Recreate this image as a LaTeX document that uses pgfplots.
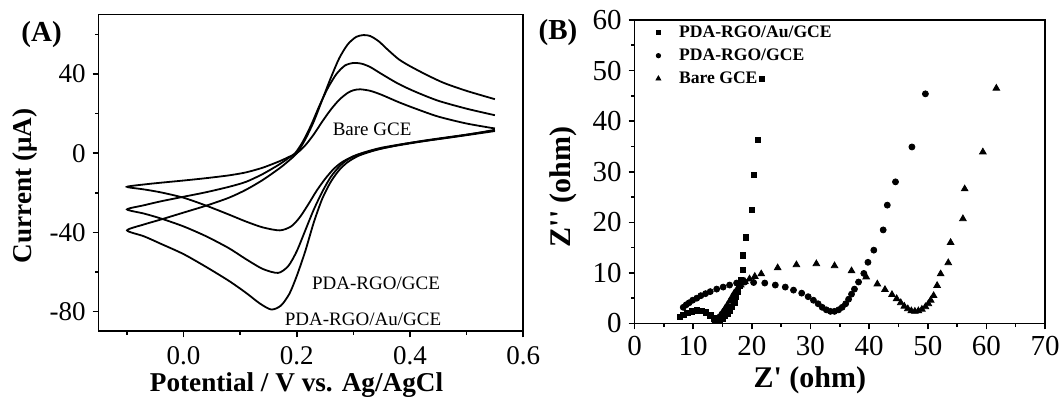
\documentclass[border=0pt]{standalone}
\usepackage{fontspec}
\setmainfont{Liberation Serif}
\usepackage{pgfplots}
\pgfplotsset{compat=1.18}
\begin{document}
\begin{tikzpicture}
\path[use as bounding box] (0,0) rectangle (529.5pt,200.5pt);
\pgfplotsset{
  panel/.style={
    scale only axis,
    anchor=south west,
    axis line style={line width=0.8pt},
    every tick/.style={line width=0.8pt, black},
    major tick length=3pt,
    minor tick length=1.8pt,
    tick align=outside,
    tick pos=left,
    tick label style={font=\fontsize{13.5}{15}\selectfont},
    /pgf/number format/assume math mode=true,
    label style={font=\bfseries\fontsize{13.6}{16}\selectfont, inner sep=0pt},
  },
  cv/.style={black, line width=0.9pt, smooth, tension=0.45},
}
% (A) cyclic voltammograms
\begin{axis}[panel,
  at={(49.35pt,34.85pt)}, width=212.25pt, height=158.3pt,
  xmin=-0.15, xmax=0.6, ymin=-90, ymax=70,
  xtick={0,0.2,0.4,0.6}, minor xtick={-0.1,0.1,0.3,0.5},
  ytick={-80,-40,0,40}, minor ytick={-60,-20,20,60},
  xticklabel style={yshift=-1pt, /pgf/number format/.cd, fixed, fixed zerofill, precision=1},
  xlabel={Potential / V vs. Ag/AgCl},
  ylabel={Current (μA)},
  xlabel style={at={(axis description cs:0.466,-0.17)}, anchor=center},
  ylabel style={at={(axis description cs:-0.173,0.459)}, anchor=center},
]
% Bare GCE
\addplot[cv] coordinates {
(0.55,12.5) (0.50,15) (0.45,18.5) (0.41,22.5) (0.38,25.8) (0.35,29.5) (0.33,31.5)
(0.312,32.3) (0.30,31.8) (0.29,30.5) (0.275,27) (0.26,22) (0.245,16) (0.23,9.5)
(0.215,4) (0.20,0) (0.185,-2) (0.17,-4) (0.14,-7.3) (0.11,-9.7) (0.08,-11.2)
(0.04,-12.6) (0.00,-13.8) (-0.04,-14.9) (-0.07,-15.8) (-0.10,-17)
(-0.07,-18.3) (-0.04,-19.8) (0.00,-22.5) (0.04,-26.5) (0.08,-31) (0.11,-34.5)
(0.14,-37.5) (0.17,-39) (0.19,-37) (0.205,-32.5) (0.22,-26) (0.235,-19) (0.25,-13)
(0.265,-8) (0.28,-4.5) (0.30,-1.5) (0.32,0.5) (0.35,2.8) (0.40,5.2) (0.45,7.2)
(0.50,9.3) (0.55,11.8)
};
% PDA-RGO/GCE
\addplot[cv] coordinates {
(0.55,19.2) (0.50,22.5) (0.45,26.5) (0.41,31) (0.38,35) (0.35,40) (0.33,43.5)
(0.315,45.2) (0.30,45.6) (0.285,44.3) (0.27,40) (0.255,33) (0.24,24) (0.225,14)
(0.21,5.5) (0.197,0) (0.185,-2.5) (0.17,-5.5) (0.14,-10.5) (0.11,-14.5) (0.08,-17)
(0.04,-19.7) (0.00,-22) (-0.04,-24.3) (-0.07,-26.3) (-0.10,-28.4)
(-0.07,-30.5) (-0.04,-33) (0.00,-37) (0.04,-42) (0.08,-48) (0.11,-53.5)
(0.14,-58.5) (0.167,-60.5) (0.185,-57) (0.20,-49.5) (0.215,-39) (0.23,-28.5)
(0.245,-19.5) (0.26,-12) (0.275,-6.8) (0.29,-3.2) (0.31,-0.6) (0.34,1.8) (0.38,4)
(0.43,6.3) (0.49,8.7) (0.55,11.2)
};
% PDA-RGO/Au/GCE
\addplot[cv] coordinates {
(0.55,27.3) (0.50,31.5) (0.46,35.5) (0.43,39.5) (0.40,44) (0.38,47.5) (0.36,52.5)
(0.345,56.5) (0.33,59.2) (0.318,59.7) (0.305,58.8) (0.29,55) (0.275,48) (0.26,38)
(0.245,27) (0.23,16) (0.215,7) (0.20,0) (0.185,-4) (0.17,-7.5) (0.14,-13.5)
(0.11,-18.5) (0.08,-22.5) (0.04,-26.5) (0.00,-30) (-0.04,-33.5) (-0.07,-36)
(-0.10,-39)
(-0.07,-42) (-0.04,-45.8) (0.00,-51) (0.04,-57.5) (0.08,-64.5) (0.11,-70.5)
(0.135,-76) (0.155,-79) (0.172,-77) (0.187,-71) (0.20,-62) (0.215,-49.5) (0.23,-35)
(0.245,-23) (0.26,-14.5) (0.275,-8.5) (0.29,-4.5) (0.31,-1.2) (0.34,1.6) (0.38,4.2)
(0.43,6.6) (0.49,9) (0.55,11.5)
};
\node[font=\fontsize{9.5}{11}\selectfont] at (axis cs:0.333,12.0) {Bare GCE};
\node[font=\fontsize{9.5}{11}\selectfont] at (axis cs:0.340,-65.7) {PDA-RGO/GCE};
\node[font=\fontsize{9.5}{11}\selectfont] at (axis cs:0.317,-83.7) {PDA-RGO/Au/GCE};
\end{axis}
% (B) impedance spectra
\begin{axis}[panel,
  at={(317.3pt,38.75pt)}, width=205.2pt, height=151.75pt,
  xmin=0, xmax=70, ymin=0, ymax=60,
  xtick={0,10,...,70}, minor xtick={5,15,...,65},
  ytick={0,10,...,60}, minor ytick={5,15,...,55},
  tick label style={font=\fontsize{14.5}{16}\selectfont},
  label style={font=\bfseries\fontsize{15}{17}\selectfont},
  xlabel={Z\textquotesingle\ (ohm)},
  ylabel={Z\textquotesingle\textquotesingle\ (ohm)},
  xlabel style={at={(axis description cs:0.427,-0.186)}, anchor=center},
  ylabel style={at={(axis description cs:-0.173,0.45)}, anchor=center},
  legend style={at={(rel axis cs:0,1)}, anchor=north west, xshift=9.7pt, yshift=-0.4pt,
    draw=none, fill=none, inner sep=0pt, row sep=0pt, column sep=0pt,
    font=\bfseries\fontsize{8.8}{10}\selectfont,
    nodes={inner sep=0pt, minimum height=11.5pt}},
  legend cell align=left,
  legend image code/.code={\path[draw=none, fill=none] (-2pt,-1pt) rectangle (10.35pt,1pt); \draw[#1] plot coordinates {(0pt,0pt)};},
]
\addplot[only marks, mark=square*, mark size=1.35pt, black,
  legend image post style={mark size=1pt}] coordinates {
(7.7,1.3) (8.3,1.7) (9.0,2.1) (9.8,2.4) (10.6,2.6) (11.4,2.5) (12.2,2.2) (12.9,1.6)
(13.5,1.0) (14.0,0.5) (14.5,0.6) (15.0,1.0) (15.4,1.5) (15.8,2.0) (16.2,2.6)
(16.6,3.3) (17.0,4.2) (17.3,5.2) (17.6,6.3) (17.9,7.5) (18.1,8.5) (18.5,10.6)
(18.5,13.5) (19.0,17.0) (20.0,22.4) (20.3,29.4) (21.0,36.3) (21.7,48.4)
};
\addlegendentry{PDA-RGO/Au/GCE}
\addplot[only marks, mark=*, mark size=1.5pt, black,
  legend image post style={mark size=1.1pt}] coordinates {
(8.3,3.2) (8.8,3.7) (9.3,4.1) (9.9,4.6) (10.6,5.0) (11.3,5.5) (12.1,5.9) (12.9,6.3)
(14.0,6.8) (15.1,7.2) (16.2,7.6) (17.4,8.0) (18.8,8.2) (20.3,8.1) (22.2,8.0)
(24.0,7.6) (25.7,7.2) (27.1,6.6) (28.5,6.0) (29.6,5.3) (30.5,4.6) (31.3,3.9)
(32.0,3.2) (32.7,2.7) (33.4,2.4) (34.1,2.4) (34.8,2.7) (35.4,3.2) (36.0,3.9)
(36.5,4.8) (37.0,5.8) (37.5,6.8) (38.2,8.2) (39.1,9.9) (39.8,12.1) (40.8,14.5)
(42.4,18.5) (43.1,23.4) (44.5,28.0) (47.3,34.9) (49.6,45.4)
};
\addlegendentry{PDA-RGO/GCE}
\addplot[only marks, mark=triangle*, mark size=1.9pt, black,
  legend image post style={mark size=1.4pt}] coordinates {
(13.8,0.5) (14.2,1.0) (14.6,1.6) (15.0,2.2) (15.4,2.9) (15.8,3.6) (16.2,4.4)
(16.6,5.2) (17.0,6.0) (17.5,6.8) (18.1,7.6) (18.8,8.3) (19.6,8.8) (20.5,9.3)
(21.6,9.8) (24.4,11.0) (27.6,11.6) (31.0,11.8) (34.1,11.4) (37.0,10.4) (39.5,9.2)
(41.4,7.8) (42.7,6.7) (43.9,5.7) (44.7,4.9) (45.4,4.1) (46.0,3.4) (46.6,2.9)
(47.2,2.5) (47.8,2.4) (48.4,2.5) (49.0,2.8) (49.6,3.3) (50.1,3.9) (50.5,4.6)
(51.0,5.5) (51.6,7.5) (52.2,9.8) (53.5,12.0) (53.9,16.0) (56.0,20.7) (56.3,26.6)
(59.4,33.9) (61.7,46.5)
};
\addlegendentry{Bare GCE}
\end{axis}
\node[font=\bfseries\fontsize{14.5}{16}\selectfont] at (20.8pt,183.35pt) {(A)};
\node[font=\bfseries\fontsize{14.5}{16}\selectfont] at (279pt,184.25pt) {(B)};
\end{tikzpicture}
\end{document}
